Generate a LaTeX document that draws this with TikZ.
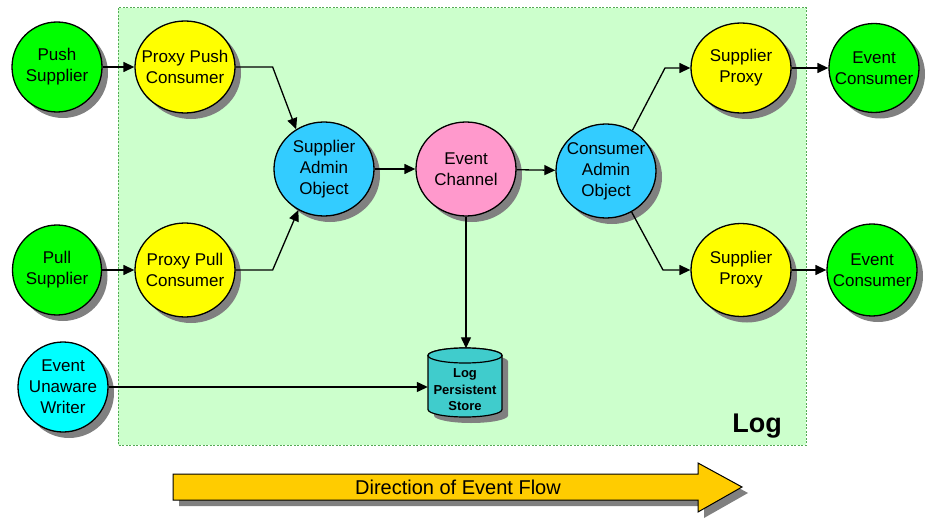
\documentclass[tikz,border=0pt]{standalone}
\usepackage{fontspec}
\setmainfont{Liberation Sans}
\usetikzlibrary{shapes.geometric,shadows,arrows.meta,calc}
\definecolor{bggreen}{HTML}{CCFFCC}
\definecolor{bordergreen}{HTML}{55AA55}
\definecolor{nodegreen}{HTML}{00FF00}
\definecolor{nodeyellow}{HTML}{FFFF00}
\definecolor{nodeblue}{HTML}{33CCFF}
\definecolor{nodepink}{HTML}{FF99CC}
\definecolor{nodecyan}{HTML}{00FFFF}
\definecolor{nodeteal}{HTML}{40CCCC}
\definecolor{arrowgold}{HTML}{FFCC00}
\definecolor{shadowgray}{HTML}{808080}
\tikzset{
  blob/.style={ellipse, draw=black, line width=1.3pt, inner sep=0pt,
    drop shadow={shadow xshift=6pt, shadow yshift=-6pt, fill=shadowgray, opacity=1}},
  blobtext/.style={align=center, inner sep=0pt, font=\fontsize{17}{21}\selectfont},
  conn/.style={line width=1.3pt, -{Triangle[length=11pt,width=10pt]}},
}
\begin{document}
\begin{tikzpicture}[x=1pt,y=-1pt]
\useasboundingbox (0,0) rectangle (927,519);
% Log area
\draw[fill=bggreen, draw=bordergreen, line width=1pt, dash pattern=on 2pt off 1.5pt] (118,8) rectangle (806,445);
\node[font=\fontsize{27}{30}\selectfont\bfseries] (logtitle) at (757,426) {Log};

% nodes
\node[blob, fill=nodegreen, minimum width=90pt, minimum height=90pt, label={[blobtext]center:{Push\\Supplier}}] (psup) at (57,67) {};
\node[blob, fill=nodeyellow, minimum width=100pt, minimum height=92pt, label={[blobtext]center:{Proxy Push\\Consumer}}] (ppush) at (185,67) {};
\node[blob, fill=nodeblue, minimum width=100pt, minimum height=94pt, label={[blobtext]center:{Supplier\\Admin\\Object}}] (sadmin) at (324,169) {};
\node[blob, fill=nodepink, minimum width=100pt, minimum height=94pt, label={[blobtext]center:{Event\\Channel}}] (chan) at (466,169) {};
\node[blob, fill=nodeblue, minimum width=100pt, minimum height=94pt, label={[blobtext]center:{Consumer\\Admin\\Object}}] (cadmin) at (606,171) {};
\node[blob, fill=nodeyellow, minimum width=100pt, minimum height=90pt, label={[blobtext]center:{Supplier\\Proxy}}] (sp1) at (741,68) {};
\node[blob, fill=nodegreen, minimum width=90pt, minimum height=89pt, label={[blobtext]center:{Event\\Consumer}}] (ec1) at (874,68) {};
\node[blob, fill=nodeyellow, minimum width=100pt, minimum height=93pt, label={[blobtext]center:{Supplier\\Proxy}}] (sp2) at (741,270) {};
\node[blob, fill=nodegreen, minimum width=90pt, minimum height=92pt, label={[blobtext]center:{Event\\Consumer}}] (ec2) at (872,270) {};
\node[blob, fill=nodegreen, minimum width=89pt, minimum height=90pt, label={[blobtext]center:{Pull\\Supplier}}] (plsup) at (57,270) {};
\node[blob, fill=nodeyellow, minimum width=100pt, minimum height=94pt, label={[blobtext]center:{Proxy Pull\\Consumer}}] (ppull) at (185,270) {};
\node[blob, fill=nodecyan, minimum width=90pt, minimum height=90pt, label={[blobtext]center:{Event\\Unaware\\Writer}}] (writer) at (63,387) {};

% cylinder store
\fill[shadowgray] (434,361.5) -- (434,415.5) arc[start angle=180,end angle=0,x radius=37,y radius=7.5] -- (508,361.5) arc[start angle=0,end angle=-180,x radius=37,y radius=7.5] -- cycle;
\draw[fill=nodeteal, line width=1.2pt] (428,355.5) -- (428,409.5) arc[start angle=180,end angle=0,x radius=37,y radius=7.5] -- (502,355.5) arc[start angle=0,end angle=-180,x radius=37,y radius=7.5] -- cycle;
\draw[fill=nodeteal, line width=1.2pt] (465,355.5) ellipse[x radius=37,y radius=7.5];
\node[inner sep=0pt, minimum width=74pt, minimum height=69pt,
  label={[align=center, inner sep=0pt, font=\fontsize{13}{16.5}\selectfont\bfseries, yshift=-7pt]center:{Log\\Persistent\\Store}}] (store) at (465,383) {};

% connectors
\draw[conn] (psup) -- (ppush);
\draw[conn] (plsup) -- (ppull);
\draw[conn] (ppush.east) -- ++(37,0) -- (sadmin.125);
\draw[conn] (ppull.east) -- ++(37,0) -- (sadmin.-122);
\draw[conn] (sadmin) -- (chan);
\draw[conn] (chan) -- (cadmin);
\draw[conn] (cadmin.57) -- (665,68) -- (sp1.west);
\draw[conn] (cadmin.-58) -- (663,270) -- (sp2.west);
\draw[conn] (sp1) -- (ec1);
\draw[conn] (sp2) -- (ec2);
\draw[conn] (chan.south) -- (chan.south |- store.north);
\draw[conn] (writer.east) -- (writer.east -| store.west);

% direction arrow
\fill[shadowgray] (179,480) -- (704,480) -- (704,469) -- (748,493) -- (704,518) -- (704,506) -- (179,506) -- cycle;
\draw[fill=arrowgold, line width=1pt] (173,474) -- (698,474) -- (698,463) -- (742,487) -- (698,512) -- (698,500) -- (173,500) -- cycle;
\node[font=\fontsize{20}{24}\selectfont] (flow) at (458,487) {Direction of Event Flow};
\end{tikzpicture}
\end{document}
